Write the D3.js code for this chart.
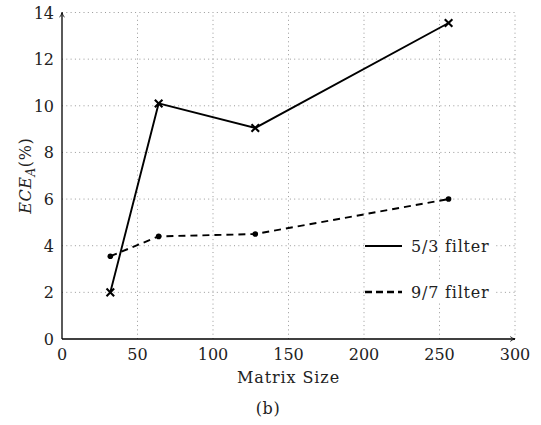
<!DOCTYPE html>
<html lang="en">
<head>
    <meta charset="UTF-8">
    <script src="https://d3js.org/d3.v7.min.js"></script>
    <title>ECE_A vs Matrix Size</title>
    <style>
        body { margin: 0; background: #fff; }
        text { font-family: "DejaVu Serif", serif; fill: #222; }
    </style>
</head>
<body>
    <div class="fig"></div>
    <script>
        // data
        const matrixSizes = [32, 64, 128, 256];
        const filter53 = [2.0, 10.1, 9.05, 13.55];
        const filter97 = [3.55, 4.4, 4.5, 6.0];
        const seriesNames = ["5/3 filter", "9/7 filter"];
        const xTicks = [0, 50, 100, 150, 200, 250, 300];
        const yTicks = [0, 2, 4, 6, 8, 10, 12, 14];

        const width = 541, height = 425;
        const margin = { left: 62, right: 26, top: 12.5, bottom: 86 };

        const svg = d3.select(".fig").append("svg")
            .attr("width", width)
            .attr("height", height);

        const x = d3.scaleLinear().domain([0, 300]).range([margin.left, width - margin.right]);
        const y = d3.scaleLinear().domain([0, 14]).range([height - margin.bottom, margin.top]);

        // arrow marker for the axes
        svg.append("defs").append("marker")
            .attr("id", "arrow")
            .attr("viewBox", "0 0 10 10")
            .attr("refX", 9).attr("refY", 5)
            .attr("markerWidth", 6).attr("markerHeight", 6)
            .attr("markerUnits", "userSpaceOnUse")
            .attr("orient", "auto")
            .append("path")
            .attr("d", "M1,1 Q5,4 9,5 Q5,6 1,9")
            .attr("fill", "none")
            .attr("stroke", "#000")
            .attr("stroke-width", 1.3);

        // grid
        const grid = svg.append("g")
            .attr("stroke", "#999")
            .attr("stroke-width", 1)
            .attr("stroke-dasharray", "1,3.3");
        grid.selectAll(".gx")
            .data(xTicks.filter(d => d > 0))
            .enter().append("line")
            .attr("x1", d => x(d)).attr("x2", d => x(d))
            .attr("y1", y(0)).attr("y2", y(14));
        grid.selectAll(".gy")
            .data(yTicks.filter(d => d > 0))
            .enter().append("line")
            .attr("x1", x(0)).attr("x2", x(300))
            .attr("y1", d => y(d)).attr("y2", d => y(d));

        // axes
        svg.append("line")
            .attr("x1", x(0)).attr("x2", x(300))
            .attr("y1", y(0)).attr("y2", y(0))
            .attr("stroke", "#000").attr("stroke-width", 1.3)
            .attr("marker-end", "url(#arrow)");
        svg.append("line")
            .attr("x1", x(0)).attr("x2", x(0))
            .attr("y1", y(0)).attr("y2", y(14))
            .attr("stroke", "#000").attr("stroke-width", 1.3)
            .attr("marker-end", "url(#arrow)");

        // tick labels
        svg.selectAll(".xt")
            .data(xTicks)
            .enter().append("text")
            .attr("x", d => x(d))
            .attr("y", y(0) + 21)
            .attr("text-anchor", "middle")
            .attr("font-size", 16)
            .text(d => d);
        svg.selectAll(".yt")
            .data(yTicks)
            .enter().append("text")
            .attr("x", x(0) - 8)
            .attr("y", d => y(d) + 6)
            .attr("text-anchor", "end")
            .attr("font-size", 16)
            .text(d => d);

        // axis labels
        svg.append("text")
            .attr("x", (x(0) + x(300)) / 2)
            .attr("y", y(0) + 44)
            .attr("text-anchor", "middle")
            .attr("font-size", 16)
            .attr("letter-spacing", 0.9)
            .text("Matrix Size");

        const yLabel = svg.append("text")
            .attr("transform", `translate(31,${(y(0) + y(14)) / 2}) rotate(-90)`)
            .attr("text-anchor", "middle")
            .attr("font-size", 16)
            .attr("letter-spacing", 0.6);
        yLabel.append("tspan").attr("font-style", "italic").text("ECE");
        yLabel.append("tspan").attr("font-style", "italic").attr("font-size", 12)
            .attr("dy", 4).text("A");
        yLabel.append("tspan").attr("dy", -4).text("(%)");

        svg.append("text")
            .attr("x", 268)
            .attr("y", 414)
            .attr("text-anchor", "middle")
            .attr("font-size", 16)
            .attr("letter-spacing", 0.6)
            .text("(b)");

        // series lines
        const line = d3.line()
            .x(d => x(d[0]))
            .y(d => y(d[1]));

        const pts53 = matrixSizes.map((m, i) => [m, filter53[i]]);
        const pts97 = matrixSizes.map((m, i) => [m, filter97[i]]);

        svg.append("path")
            .datum(pts97)
            .attr("d", line)
            .attr("fill", "none")
            .attr("stroke", "#000")
            .attr("stroke-width", 1.9)
            .attr("stroke-dasharray", "7,5");
        svg.selectAll(".dot")
            .data(pts97)
            .enter().append("circle")
            .attr("cx", d => x(d[0]))
            .attr("cy", d => y(d[1]))
            .attr("r", 2.8)
            .attr("fill", "#000");

        svg.append("path")
            .datum(pts53)
            .attr("d", line)
            .attr("fill", "none")
            .attr("stroke", "#000")
            .attr("stroke-width", 1.9);
        const cross = 3.8;
        svg.selectAll(".cross")
            .data(pts53)
            .enter().append("path")
            .attr("d", d => {
                const cx = x(d[0]), cy = y(d[1]);
                return `M${cx - cross},${cy - cross}L${cx + cross},${cy + cross}M${cx - cross},${cy + cross}L${cx + cross},${cy - cross}`;
            })
            .attr("stroke", "#000")
            .attr("stroke-width", 2.1);

        // legend
        const legendX = 365, legendY = [246, 292];
        const legend = svg.selectAll(".legend")
            .data(seriesNames)
            .enter().append("g")
            .attr("transform", (d, i) => `translate(${legendX},${legendY[i]})`);
        legend.append("rect")
            .attr("x", 0).attr("y", -10)
            .attr("width", 130).attr("height", 20)
            .attr("fill", "#fff");
        legend.append("line")
            .attr("x1", 0).attr("x2", 37)
            .attr("y1", 0).attr("y2", 0)
            .attr("stroke", "#000")
            .attr("stroke-width", (d, i) => i === 0 ? 1.9 : 2.6)
            .attr("stroke-dasharray", (d, i) => i === 0 ? null : "7,4");
        legend.append("text")
            .attr("x", 46)
            .attr("y", 6)
            .attr("font-size", 16)
            .attr("letter-spacing", 0.8)
            .text(d => d);
    </script>
</body>
</html>
